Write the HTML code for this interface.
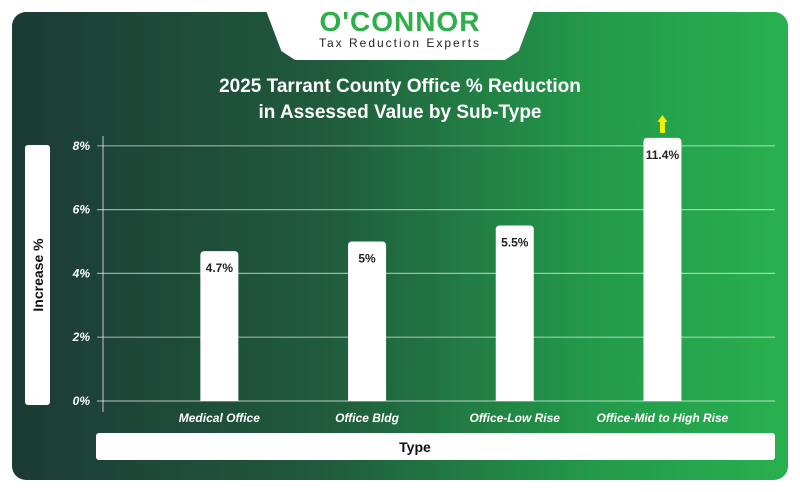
<!DOCTYPE html>
<html><head><meta charset="utf-8"><style>
body{margin:0;width:800px;height:492px;background:#fff;font-family:"Liberation Sans",sans-serif;overflow:hidden;position:relative}
#card{position:absolute;left:12px;top:12px;width:776px;height:468px;border-radius:14px;background:linear-gradient(90deg,#1c3a36 0%,#205a3c 40%,#239a4a 75%,#28b04f 100%)}
#logo{position:absolute;left:262px;top:0;width:276px;height:60px;background:#fff;clip-path:polygon(0 0,100% 0,93% 85%,88% 100%,12% 100%,7% 85%);}
.t{position:absolute;width:800px;text-align:center;color:#fff;font-weight:bold;font-size:19px}
</style></head><body>
<div id="card"></div>
<div id="logo">
<div style="text-align:center;font-weight:900;font-size:28px;color:#2fae4a;margin-top:6px;letter-spacing:1px">O'CONNOR</div>
<div style="text-align:center;font-size:12px;color:#222;letter-spacing:2px;margin-top:-2px">Tax Reduction Experts</div>
</div>
<div class="t" style="top:76px">2025 Tarrant County Office % Reduction</div>
<div class="t" style="top:102px">in Assessed Value by Sub-Type</div>
<svg id="chart" width="800" height="492" style="position:absolute;left:0;top:0"></svg>
<script>
const categories=["Medical Office","Office Bldg","Office-Low Rise","Office-Mid to High Rise"];
const values=[4.7,5,5.5,11.4];
const valueLabels=["4.7%","5%","5.5%","11.4%"];
const ticks=[0,2,4,6,8];
const tickLabels=["0%","2%","4%","6%","8%"];
const NS="http://www.w3.org/2000/svg",svg=document.getElementById('chart');
const y=v=>401-v*31.9, x0=145.5, step=147.7, xc=i=>x0+step*(i+0.5);
function el(t,a,p){const e=document.createElementNS(NS,t);for(const k in a)e.setAttribute(k,a[k]);(p||svg).appendChild(e);return e;}
let r=el('rect',{x:25,y:145,width:25,height:260,rx:3,fill:'#fff'});

let yt=el('text',{x:43,y:275,transform:'rotate(-90 43 275)','text-anchor':'middle','font-size':14,'font-weight':'bold',fill:'#111'});yt.textContent='Increase %';

r=el('rect',{x:96,y:433,width:679,height:27,rx:3,fill:'#fff'});

let xt=el('text',{x:415,y:452,'text-anchor':'middle','font-size':14,'font-weight':'bold',fill:'#111'});xt.textContent='Type';

ticks.forEach((t,i)=>{
 const g=el('line',{x1:97,x2:775,y1:y(t),y2:y(t),stroke:'rgba(255,255,255,0.55)','stroke-width':1.2});
 
 const tl=el('text',{x:90,y:y(t)+4,'text-anchor':'end','font-size':12,'font-weight':'bold','font-style':'italic',fill:'#fff'});tl.textContent=tickLabels[i];
 
});
const ax=el('line',{x1:103,x2:103,y1:136,y2:412,stroke:'rgba(255,255,255,0.6)','stroke-width':1.2});

const maxV=8.25;
values.forEach((v,i)=>{
 const c=xc(i),vv=Math.min(v,maxV),top=y(vv);
 const b=el('path',{d:`M${c-19} 401V${top+4}Q${c-19} ${top} ${c-15} ${top}H${c+15}Q${c+19} ${top} ${c+19} ${top+4}V401Z`,fill:'#fff'});
 
 const vl=el('text',{x:c,y:top+21,'text-anchor':'middle','font-size':12,'font-weight':'bold',fill:'#222'});vl.textContent=valueLabels[i];
 
 const cl=el('text',{x:c,y:422,'text-anchor':'middle','font-size':12,'font-weight':'bold','font-style':'italic',fill:'#fff'});cl.textContent=categories[i];
 
 if(v>maxV){
  const a=el('path',{d:`M${c} ${top-23}L${c+5} ${top-16}H${c+2.5}V${top-5}H${c-2.5}V${top-16}H${c-5}Z`,fill:'#f5f000'});
  
 }
});
</script>
</body></html>
